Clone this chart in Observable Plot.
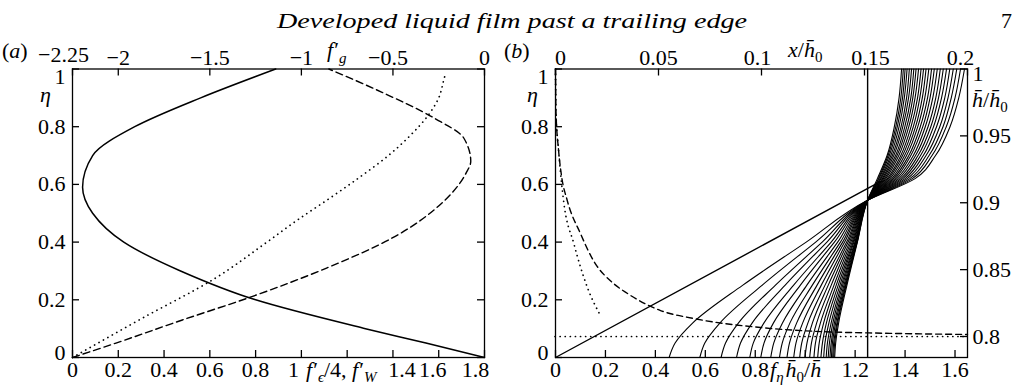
<!DOCTYPE html>
<html>
<head>
<meta charset="utf-8">
<script src="https://cdn.jsdelivr.net/npm/d3@7"></script>
<script src="https://cdn.jsdelivr.net/npm/@observablehq/plot@0.6"></script>
<style>
  body { margin: 0; background: #fff; }
  #fig { position: relative; width: 1020px; height: 387px; overflow: hidden; background: #fff; }
  #fig svg { position: absolute; left: 0; top: 0; overflow: visible; }
</style>
</head>
<body>
<div id="fig"></div>
<script>
// ---------- panel (a): base-flow profiles across the film ----------
const etaTicks = [0, 0.2, 0.4, 0.6, 0.8, 1];
const etaLabels = ["0", "0.2", "0.4", "0.6", "0.8", "1"];

// f'_g (top axis)
const gEta   = [0, 0.05, 0.1, 0.2, 0.3, 0.4, 0.5, 0.59, 0.7, 0.8, 0.9, 1];
const gShear = [0, -0.32, -0.65, -1.25, -1.66, -1.97, -2.14, -2.195, -2.14, -1.91, -1.55, -1.14];
// f'_W (bottom axis, dashed)
const wEta     = [0, 0.05, 0.13, 0.21, 0.31, 0.42, 0.54, 0.64, 0.68, 0.76, 0.83, 0.92, 1];
const wProfile = [0, 0.19, 0.48, 0.78, 1.11, 1.41, 1.62, 1.72, 1.74, 1.71, 1.58, 1.35, 1.12];
// f'_eps / 4 (bottom axis, dotted)
const epsEta     = [0, 0.134, 0.273, 0.4, 0.475, 0.55, 0.625, 0.7, 0.765, 0.846, 0.9, 0.962, 0.985];
const epsProfile = [0, 0.30, 0.62, 0.85, 0.98, 1.12, 1.255, 1.38, 1.47, 1.56, 1.60, 1.622, 1.63];

const aBottomTicks  = [0, 0.2, 0.4, 0.6, 0.8, 1, 1.2, 1.4, 1.6, 1.8];
const aBottomLabels = ["0", "0.2", "0.4", "0.6", "0.8", "1", "", "1.4", "1.6", "1.8"];
const aTopTicks  = [-2.25, -2, -1.5, -1, -0.5, 0];
const aTopLabels = ["\u22122.25", "\u22122", "\u22121.5", "\u22121", "\u22120.5", "0"];

// ---------- panel (b): velocity profiles downstream of the edge ----------
const profileEta = [0, 0.05, 0.12, 0.25, 0.4, 0.545, 0.62, 0.7, 0.8, 0.9, 1];
const profiles = [
  [0.455, 0.479, 0.550, 0.749, 1.004, 1.25, 1.440, 1.522, 1.580, 1.615, 1.638],
  [0.578, 0.598, 0.659, 0.827, 1.042, 1.25, 1.429, 1.508, 1.565, 1.600, 1.622],
  [0.663, 0.681, 0.733, 0.880, 1.068, 1.25, 1.419, 1.496, 1.552, 1.585, 1.607],
  [0.725, 0.741, 0.788, 0.919, 1.087, 1.25, 1.409, 1.484, 1.539, 1.572, 1.593],
  [0.778, 0.792, 0.835, 0.953, 1.104, 1.25, 1.400, 1.473, 1.526, 1.559, 1.579],
  [0.822, 0.835, 0.873, 0.980, 1.117, 1.25, 1.391, 1.462, 1.514, 1.546, 1.566],
  [0.862, 0.874, 0.909, 1.006, 1.130, 1.25, 1.383, 1.452, 1.503, 1.534, 1.553],
  [0.897, 0.908, 0.939, 1.028, 1.141, 1.25, 1.375, 1.442, 1.492, 1.523, 1.541],
  [0.927, 0.937, 0.966, 1.047, 1.150, 1.25, 1.367, 1.433, 1.481, 1.511, 1.529],
  [0.954, 0.963, 0.990, 1.064, 1.158, 1.25, 1.360, 1.423, 1.471, 1.500, 1.517],
  [0.978, 0.986, 1.011, 1.079, 1.166, 1.25, 1.353, 1.415, 1.461, 1.490, 1.506],
  [0.999, 1.007, 1.029, 1.092, 1.172, 1.25, 1.347, 1.406, 1.451, 1.479, 1.495],
  [1.018, 1.025, 1.046, 1.104, 1.178, 1.25, 1.340, 1.398, 1.442, 1.469, 1.484],
  [1.035, 1.041, 1.061, 1.115, 1.183, 1.25, 1.334, 1.390, 1.433, 1.459, 1.474],
  [1.050, 1.056, 1.074, 1.124, 1.188, 1.25, 1.329, 1.383, 1.424, 1.450, 1.464],
  [1.063, 1.069, 1.085, 1.132, 1.192, 1.25, 1.323, 1.375, 1.415, 1.440, 1.454],
  [1.074, 1.079, 1.095, 1.139, 1.195, 1.25, 1.318, 1.368, 1.407, 1.431, 1.444],
  [1.084, 1.089, 1.104, 1.145, 1.199, 1.25, 1.313, 1.362, 1.399, 1.423, 1.435],
  [1.092, 1.097, 1.111, 1.150, 1.201, 1.25, 1.309, 1.355, 1.391, 1.414, 1.426],
  [1.099, 1.104, 1.117, 1.155, 1.203, 1.25, 1.304, 1.349, 1.384, 1.406, 1.417],
  [1.105, 1.109, 1.122, 1.159, 1.205, 1.25, 1.300, 1.343, 1.376, 1.397, 1.408],
  [1.110, 1.114, 1.127, 1.162, 1.207, 1.25, 1.296, 1.337, 1.369, 1.390, 1.400],
  [1.114, 1.118, 1.130, 1.164, 1.208, 1.25, 1.293, 1.332, 1.363, 1.383, 1.393],
  [1.118, 1.122, 1.134, 1.167, 1.209, 1.25, 1.289, 1.328, 1.357, 1.376, 1.386]
];
// profile at the trailing edge
const edgeEta = [0, 0.608];
const edgeProfile = [0, 1.297];
// far-downstream uniform profile
const uniformProfile = 1.25;

// film thickness along the plate (top / right axes)
const thickX = [0, 0.0002, 0.0015, 0.0029, 0.0057, 0.0121, 0.0184, 0.0282, 0.035, 0.051, 0.067, 0.0995, 0.1335, 0.1544, 0.2];
const thickH = [1, 0.969, 0.9391, 0.9204, 0.9017, 0.877, 0.8568, 0.8396, 0.8321, 0.8194, 0.8135, 0.8067, 0.8034, 0.8026, 0.8015];
const nearX = [0, 0.0002, 0.0015, 0.0039, 0.0089, 0.0155, 0.0218];
const nearH = [1, 0.969, 0.9391, 0.9017, 0.8695, 0.8366, 0.8157];
const thickLimit = 0.8;

const bBottomTicks  = [0, 0.2, 0.4, 0.6, 0.8, 1, 1.2, 1.4, 1.6];
const bBottomLabels = ["0", "0.2", "0.4", "0.6", "0.8", "", "1.2", "1.4", "1.6"];
const bTopTicks  = [0, 0.05, 0.1, 0.15, 0.2];
const bTopLabels = ["0", "0.05", "0.1", "0.15", "0.2"];
const bRightTicks  = [0.8, 0.85, 0.9, 0.95, 1];
const bRightLabels = ["0.8", "0.85", "0.9", "0.95", "1"];

// ---------- drawing ----------
const fig = document.getElementById("fig");
const FONT = "'Liberation Serif', 'Times New Roman', serif";
const frameH = 387 - 68.5 - 30, frameW = 412, tick = 7;
const lab = (ticks, labels) => d => labels[ticks.indexOf(d)];
const rows = (ys, xs) => ys.map((y, i) => ({y, x: xs[i]}));

const base = {
  width: 1020, height: 387, marginTop: 68.5, marginBottom: 30,
  style: {background: "transparent", fontFamily: FONT, fontSize: "22px", color: "#000", overflow: "visible"}
};
const sw = 1.3;
const dots = {strokeWidth: 1.7, strokeDasharray: "0.1,5", strokeLinecap: "round"};

// tick-label helpers: a subset of ticks, optionally nudged
const xLabels = (ticks, labels, anchor, subset, dx = 0, pad = 4) =>
  Plot.axisX(subset, {anchor, tickSize: 0, tickPadding: pad, dx, tickFormat: lab(ticks, labels), label: null});
const yLabels = (ticks, labels, anchor, subset, dy = 0, pad = 7) =>
  Plot.axisY(subset, {anchor, tickSize: 0, tickPadding: pad, dy, tickFormat: lab(ticks, labels), label: null});
// η labels: the end labels sit just inside the frame corners
const etaAxis = () => [
  yLabels(etaTicks, etaLabels, "left", [0.2, 0.4, 0.6, 0.8]),
  yLabels(etaTicks, etaLabels, "left", [1], 8),
  yLabels(etaTicks, etaLabels, "left", [0], -5)
];

// (a) bottom / left scales
fig.append(Plot.plot({
  ...base, marginLeft: 72, marginRight: 536,
  x: {domain: [0, 1.8]}, y: {domain: [0, 1]},
  marks: [
    Plot.ruleX(aBottomTicks, {x: d => d, insetTop: frameH - tick, strokeWidth: sw}),
    Plot.ruleY(etaTicks, {y: d => d, insetRight: frameW - tick, strokeWidth: sw}),
    Plot.ruleY(etaTicks, {y: d => d, insetLeft: frameW - tick, strokeWidth: sw}),
    Plot.line(rows(wEta, wProfile), {x: "x", y: "y", curve: "monotone-y", strokeWidth: 1.4, strokeDasharray: "7,4"}),
    Plot.line(rows(epsEta, epsProfile), {x: "x", y: "y", curve: "monotone-y", ...dots}),
    Plot.frame({stroke: "#000", strokeWidth: sw}),
    xLabels(aBottomTicks, aBottomLabels, "bottom", [0, 0.2, 0.4, 0.6, 0.8]),
    xLabels(aBottomTicks, aBottomLabels, "bottom", [1], -8),
    xLabels(aBottomTicks, aBottomLabels, "bottom", [1.4], 9),
    xLabels(aBottomTicks, aBottomLabels, "bottom", [1.6], -6),
    xLabels(aBottomTicks, aBottomLabels, "bottom", [1.8], -9),
    ...etaAxis()
  ]
}));

// (a) top scale
fig.append(Plot.plot({
  ...base, marginLeft: 72, marginRight: 536,
  x: {domain: [-2.25, 0]}, y: {domain: [0, 1], axis: null},
  marks: [
    Plot.ruleX(aTopTicks, {x: d => d, insetBottom: frameH - tick, strokeWidth: sw}),
    Plot.line(rows(gEta, gShear), {x: "x", y: "y", curve: "monotone-y", strokeWidth: 1.5}),
    xLabels(aTopTicks, aTopLabels, "top", [-1.5, -1, 0]),
    xLabels(aTopTicks, aTopLabels, "top", [-2.25], -9, 7),
    xLabels(aTopTicks, aTopLabels, "top", [-2], 0),
    xLabels(aTopTicks, aTopLabels, "top", [-0.5], -5)
  ]
}));

// (b) bottom / left scales: profiles
const fan = profiles.flatMap((xs, k) => xs.map((x, j) => ({x, y: profileEta[j], k})));
fig.append(Plot.plot({
  ...base, marginLeft: 555, marginRight: 53,
  x: {domain: [0, 1.65]}, y: {domain: [0, 1]},
  marks: [
    Plot.ruleX(bBottomTicks, {x: d => d, insetTop: frameH - tick, strokeWidth: sw}),
    Plot.ruleY(etaTicks, {y: d => d, insetRight: frameW - tick, strokeWidth: sw}),
    Plot.ruleX([uniformProfile], {x: d => d, strokeWidth: 1.4}),
    Plot.line(fan, {x: "x", y: "y", z: "k", curve: "monotone-y", strokeWidth: 1.1}),
    Plot.line(rows(edgeEta, edgeProfile), {x: "x", y: "y", strokeWidth: 1.4}),
    Plot.frame({stroke: "#000", strokeWidth: sw}),
    xLabels(bBottomTicks, bBottomLabels, "bottom", bBottomTicks),
    ...etaAxis()
  ]
}));

// (b) top / right scales: film thickness
fig.append(Plot.plot({
  ...base, marginLeft: 555, marginRight: 53,
  x: {domain: [0, 0.2]}, y: {domain: [0.7843, 1]},
  marks: [
    Plot.ruleX(bTopTicks, {x: d => d, insetBottom: frameH - tick, strokeWidth: sw}),
    Plot.ruleY(bRightTicks, {y: d => d, insetLeft: frameW - tick, strokeWidth: sw}),
    Plot.ruleY([thickLimit], {y: d => d, ...dots}),
    Plot.line(rows(thickH, thickX), {x: "x", y: "y", curve: "monotone-x", strokeWidth: 1.4, strokeDasharray: "6,4"}),
    Plot.line(rows(nearH, nearX), {x: "x", y: "y", curve: "monotone-x", ...dots}),
    xLabels(bTopTicks, bTopLabels, "top", [0.05]),
    xLabels(bTopTicks, bTopLabels, "top", [0], 5),
    xLabels(bTopTicks, bTopLabels, "top", [0.1], -4),
    xLabels(bTopTicks, bTopLabels, "top", [0.15], 6),
    xLabels(bTopTicks, bTopLabels, "top", [0.2], -7),
    yLabels(bRightTicks, bRightLabels, "right", [0.8, 0.85, 0.9, 0.95], 0, 5),
    yLabels(bRightTicks, bRightLabels, "right", [1], 5, 5)
  ]
}));

// running head, panel tags and axis names
const ns = "http://www.w3.org/2000/svg";
const ann = document.createElementNS(ns, "svg");
ann.setAttribute("width", 1020);
ann.setAttribute("height", 387);
ann.setAttribute("font-family", FONT);
ann.setAttribute("font-size", 22);
ann.innerHTML = `
<text x="277" y="28" font-style="italic" textLength="470" lengthAdjust="spacingAndGlyphs">Developed liquid film past a trailing edge</text>
<text x="1012" y="28" text-anchor="end">7</text>
<text x="2" y="58">(<tspan font-style="italic">a</tspan>)</text>
<text x="504" y="58">(<tspan font-style="italic">b</tspan>)</text>
<text x="40" y="102" font-style="italic">η</text>
<text x="527" y="102" font-style="italic">η</text>
<text x="327" y="57"><tspan font-style="italic">f</tspan><tspan dx="1">′</tspan><tspan font-style="italic" font-size="15" dy="6">g</tspan></text>
<text x="306" y="377"><tspan font-style="italic">f</tspan><tspan dx="1">′</tspan><tspan font-style="italic" font-size="15" dy="5">ϵ</tspan><tspan dy="-5">/4, </tspan><tspan font-style="italic">f</tspan><tspan dx="1">′</tspan><tspan font-style="italic" font-size="15" dy="5">W</tspan></text>
<text x="788" y="57"><tspan font-style="italic">x</tspan>/<tspan font-style="italic">h̄</tspan><tspan font-size="15" dy="5">0</tspan></text>
<text x="770" y="377"><tspan font-style="italic">f</tspan><tspan font-style="italic" font-size="15" dy="5">η</tspan><tspan font-style="italic" dx="2" dy="-5">h̄</tspan><tspan font-size="15" dy="5">0</tspan><tspan dy="-5">/</tspan><tspan font-style="italic">h̄</tspan></text>
<text x="972" y="107"><tspan font-style="italic">h̄</tspan>/<tspan font-style="italic">h̄</tspan><tspan font-size="15" dy="5">0</tspan></text>
`;
fig.append(ann);
</script>
</body>
</html>
